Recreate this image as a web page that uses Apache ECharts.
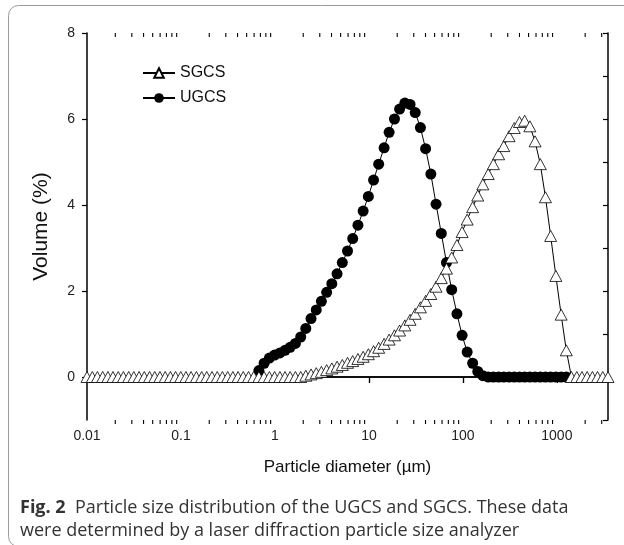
<!DOCTYPE html>
<html>
<head>
<meta charset="utf-8">
<script src="https://cdn.jsdelivr.net/npm/echarts@6/dist/echarts.min.js"></script>
<style>
  html, body { margin: 0; padding: 0; background: #fff; }
  #chart { width: 624px; height: 545px; }
</style>
</head>
<body>
<div id="chart"></div>
<script>
// size classes of the laser diffraction analyzer (um)
var sizes = [
  0.0100, 0.0114, 0.0129, 0.0147, 0.0167, 0.0189, 0.0215, 0.0244, 0.0278, 0.0315,
  0.0358, 0.0407, 0.0463, 0.0526, 0.0597, 0.0679, 0.0771, 0.0876, 0.0995, 0.113,
  0.128, 0.146, 0.166, 0.188, 0.214, 0.243, 0.276, 0.314, 0.357, 0.405,
  0.460, 0.523, 0.594, 0.675, 0.767, 0.872, 0.991, 1.13, 1.28, 1.45,
  1.65, 1.88, 2.13, 2.42, 2.75, 3.12, 3.55, 4.03, 4.58, 5.21,
  5.92, 6.72, 7.64, 8.68, 9.86, 11.2, 12.7, 14.5, 16.4, 18.7,
  21.2, 24.1, 27.4, 31.1, 35.3, 40.1, 45.6, 51.8, 58.9, 66.9,
  76.0, 86.4, 98.1, 111, 127, 144, 163, 186, 211, 240,
  272, 310, 352, 400, 454, 516, 586, 666, 756, 859,
  976, 1110, 1260, 1430, 1630, 1850, 2100, 2390, 2710, 3080,
  3500
];

// volume (%) per size class
var sgcs = [
  0, 0, 0, 0, 0, 0, 0, 0, 0, 0,
  0, 0, 0, 0, 0, 0, 0, 0, 0, 0,
  0, 0, 0, 0, 0, 0, 0, 0, 0, 0,
  0, 0, 0, 0, 0, 0, 0, 0, 0, 0,
  0, 0, 0.03, 0.06, 0.09, 0.12, 0.16, 0.20, 0.24, 0.28,
  0.33, 0.37, 0.42, 0.47, 0.53, 0.60, 0.68, 0.77, 0.87, 0.97,
  1.08, 1.20, 1.33, 1.47, 1.62, 1.77, 1.93, 2.10, 2.30, 2.52,
  2.78, 3.07, 3.37, 3.66, 3.95, 4.22, 4.48, 4.72, 4.95, 5.18,
  5.37, 5.60, 5.79, 5.93, 5.96, 5.83, 5.48, 4.95, 4.18, 3.28,
  2.35, 1.45, 0.62, 0, 0, 0, 0, 0, 0, 0,
  0
];

var ugcs = [
  null, null, null, null, null, null, null, null, null, null,
  null, null, null, null, null, null, null, null, null, null,
  null, null, null, null, null, null, null, null, null, null,
  null, null, null, 0.15, 0.32, 0.44, 0.51, 0.56, 0.62, 0.69,
  0.78, 0.93, 1.13, 1.36, 1.56, 1.76, 1.97, 2.17, 2.40, 2.66,
  2.93, 3.22, 3.53, 3.86, 4.20, 4.58, 4.95, 5.33, 5.69, 6.00,
  6.23, 6.37, 6.34, 6.15, 5.80, 5.31, 4.72, 4.02, 3.34, 2.66,
  2.03, 1.47, 0.97, 0.58, 0.32, 0.13, 0.03, 0, 0, 0,
  0, 0, 0, 0, 0, 0, 0, 0, 0, 0,
  0, 0, 0, null, null, null, null, null, null, null,
  null
];

var xMajorTicks = [0.01, 0.1, 1, 10, 100, 1000];
var xMinorTicks = [
  0.02, 0.03, 0.04, 0.05, 0.06, 0.07, 0.08, 0.09,
  0.2, 0.3, 0.4, 0.5, 0.6, 0.7, 0.8, 0.9,
  2, 3, 4, 5, 6, 7, 8, 9,
  20, 30, 40, 50, 60, 70, 80, 90,
  200, 300, 400, 500, 600, 700, 800, 900,
  2000, 3000
];
var yMajorTicks = [0, 2, 4, 6, 8];

function pairs(values) {
  var out = [];
  for (var i = 0; i < sizes.length; i++) {
    if (values[i] !== null) out.push([sizes[i], values[i]]);
  }
  return out;
}

var chart = echarts.init(document.getElementById('chart'));

var sans = 'Liberation Sans, Arial, sans-serif';
var axisFont = { color: '#222', fontSize: 14, fontFamily: sans };

var option = {
  animation: false,
  backgroundColor: '#fff',
  graphic: [{
    type: 'rect',
    shape: { x: 8.5, y: 5.5, width: 700, height: 541, r: 10 },
    style: { fill: 'none', stroke: '#9a9a9a', lineWidth: 1 },
    silent: true
  }],
  title: {
    left: 15,
    top: 491,
    text: '{b|Fig. 2}  Particle size distribution of the UGCS and SGCS. These data\nwere determined by a laser diffraction particle size analyzer',
    textStyle: {
      fontFamily: 'Open Sans, sans-serif',
      fontSize: 18,
      fontWeight: 'normal',
      color: '#333',
      lineHeight: 23,
      rich: {
        b: { fontFamily: 'Open Sans, sans-serif', fontSize: 18, fontWeight: 'bold', color: '#333', lineHeight: 23 }
      }
    }
  },
  legend: {
    data: ['SGCS', 'UGCS'],
    orient: 'vertical',
    left: 137,
    top: 60,
    itemWidth: 32,
    itemHeight: 12,
    itemGap: 9,
    textStyle: { color: '#111', fontSize: 16, fontFamily: sans }
  },
  grid: { left: 87, right: 16, top: 33, bottom: 125 },
  xAxis: [{
    type: 'log',
    logBase: 10,
    min: 0.01,
    max: 3500,
    position: 'bottom',
    name: 'Particle diameter (\u00b5m)',
    nameLocation: 'middle',
    nameGap: 39,
    nameTextStyle: { color: '#111', fontSize: 17, fontFamily: sans },
    axisLine: { lineStyle: { color: '#000', width: 1.5 } },
    axisTick: { inside: false, length: 6, customValues: xMajorTicks, lineStyle: { color: '#000', width: 1.2 } },
    axisLabel: Object.assign({ margin: 9, customValues: xMajorTicks, formatter: function (v) { return String(v); } }, axisFont),
    splitLine: { show: false }
  }, {
    type: 'log',
    logBase: 10,
    min: 0.01,
    max: 3500,
    position: 'top',
    axisLine: { lineStyle: { color: '#000', width: 1.5 } },
    axisTick: { inside: true, length: 6, customValues: xMajorTicks, lineStyle: { color: '#000', width: 1.2 } },
    axisLabel: { show: false },
    splitLine: { show: false }
  }],
  yAxis: [{
    type: 'value',
    min: -1,
    max: 8,
    interval: 1,
    position: 'left',
    name: 'Volume (%)',
    nameLocation: 'middle',
    nameGap: 35,
    nameTextStyle: { color: '#111', fontSize: 21, fontFamily: sans },
    axisLine: { show: true, lineStyle: { color: '#000', width: 1.5 } },
    axisTick: { show: true, inside: false, length: 5, customValues: yMajorTicks, lineStyle: { color: '#000', width: 1.2 } },
    axisLabel: Object.assign({ margin: 12, customValues: yMajorTicks }, axisFont),
    splitLine: { show: false }
  }, {
    type: 'value',
    min: -1,
    max: 8,
    interval: 1,
    position: 'right',
    axisLine: { show: true, lineStyle: { color: '#000', width: 1.5 } },
    axisTick: { show: true, inside: true, length: 5, lineStyle: { color: '#000', width: 1.2 } },
    axisLabel: { show: false },
    splitLine: { show: false }
  }],
  series: [{
    name: 'UGCS',
    type: 'line',
    xAxisIndex: 0,
    yAxisIndex: 0,
    data: pairs(ugcs),
    symbol: 'circle',
    symbolSize: 11,
    showSymbol: true,
    lineStyle: { color: '#000', width: 1 },
    itemStyle: { color: '#000', borderColor: '#000', borderWidth: 0 },
    z: 2
  }, {
    name: 'SGCS',
    type: 'line',
    xAxisIndex: 0,
    yAxisIndex: 0,
    data: pairs(sgcs),
    symbol: 'triangle',
    symbolSize: [12, 11],
    showSymbol: true,
    lineStyle: { color: '#000', width: 1 },
    itemStyle: { color: '#fff', borderColor: '#000', borderWidth: 0.8 },
    z: 3
  }, {
    // minor ticks of the log axis, placed through the axis scale
    type: 'custom',
    xAxisIndex: 0,
    yAxisIndex: 0,
    silent: true,
    clip: false,
    data: xMinorTicks.map(function (v) { return [v]; }),
    encode: { x: 0 },
    renderItem: function (params, api) {
      var v = api.value(0);
      var b = api.coord([v, -1]);
      var t = api.coord([v, 8]);
      var st = { stroke: '#000', lineWidth: 1.1 };
      return {
        type: 'group',
        children: [
          { type: 'line', shape: { x1: b[0], y1: b[1], x2: b[0], y2: b[1] + 4 }, style: st },
          { type: 'line', shape: { x1: t[0], y1: t[1], x2: t[0], y2: t[1] + 4 }, style: st }
        ]
      };
    },
    z: 5
  }]
};

chart.setOption(option);
</script>
</body>
</html>
